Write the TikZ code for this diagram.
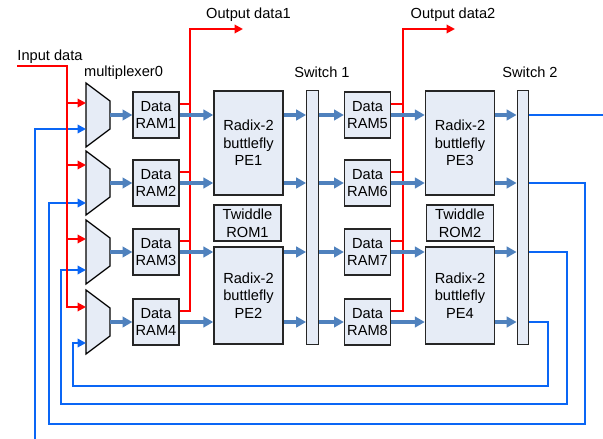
\documentclass[tikz,border=0pt]{standalone}
\usepackage{fontspec}
\setmainfont{Liberation Sans}
\usetikzlibrary{arrows.meta}

\definecolor{busblue}{RGB}{79,129,189}
\definecolor{loopblue}{RGB}{10,102,245}
\definecolor{boxfill}{RGB}{230,236,246}

\tikzset{
  blk/.style={draw=black!85, line width=0.9pt, fill=boxfill, align=center, inner sep=0pt},
  ram/.style={blk, minimum width=1.15cm, minimum height=1.15cm},
  pe/.style={blk, minimum width=1.73cm},
  rom/.style={blk, minimum width=1.68cm, minimum height=0.9cm},
  switchbar/.style={blk, minimum width=0.29cm, minimum height=6.33cm},
  mux/.style={draw=black, line width=0.9pt, fill=boxfill},
  bus/.style={busblue, line width=2.4pt, -{Triangle[length=7pt,width=7.5pt]}},
  din/.style={red, line width=1.4pt},
  fb/.style={loopblue, line width=1.6pt},
  tip/.style={-{Triangle[length=6pt,width=6pt]}}
}

\begin{document}
\begin{tikzpicture}[x=0.025cm, y=-0.025cm, font=\fontsize{10.4}{12.5}\selectfont]
    \useasboundingbox (0,0) rectangle (603,439);

    % rows of the data path
    \foreach \i/\y in {1/115,2/183,3/252,4/322}
        \coordinate (r\i) at (0,\y);

    % multiplexers
    \foreach \i/\y/\a/\b in {1/115/103/129, 2/183/165/203, 3/252/239/270, 4/322/307/343} {
        \draw[mux] (86,\y-32) -- (110,\y-14) -- (110,\y+14) -- (86,\y+32) -- cycle;
        \coordinate (mux\i-a) at (86,\a);
        \coordinate (mux\i-b) at (86,\b);
        \coordinate (mux\i-o) at (110,\y);
    }

    % memories
    \foreach \i/\y in {1/115,2/183,3/252,4/322}
        \node[ram] (ram\i) at (156,\y) {Data\\RAM\i};
    \foreach \i/\y in {5/115,6/183,7/252,8/322}
        \node[ram] (ram\i) at (367.5,\y) {Data\\RAM\i};

    % butterflies and twiddle ROMs
    \node[pe, minimum height=2.6cm] (pe1) at (248.5,143) {Radix-2\\buttlefly\\PE1};
    \node[pe, minimum height=2.425cm] (pe2) at (248.5,295.5) {Radix-2\\buttlefly\\PE2};
    \node[pe, minimum height=2.6cm] (pe3) at (460,143) {Radix-2\\buttlefly\\PE3};
    \node[pe, minimum height=2.425cm] (pe4) at (460,295.5) {Radix-2\\buttlefly\\PE4};
    \node[rom] (rom1) at (247.5,223) {Twiddle\\ROM1};
    \node[rom] (rom2) at (460,223) {Twiddle\\ROM2};

    % switches
    \node[switchbar] (sw1) at (312.5,217.5) {};
    \node[switchbar] (sw2) at (523,217.5) {};

    % labels
    \node (inlbl) at (50,57) {Input data};
    \node (muxlbl) at (123.5,73) {multiplexer0};
    \node (sw1lbl) at (322,72) {Switch 1};
    \node (sw2lbl) at (530,72) {Switch 2};
    \node (out1lbl) at (248.5,15) {Output data1};
    \node (out2lbl) at (453,15) {Output data2};

    % feedback from switch 2
    \coordinate (fbout) at (603,115);
    \coordinate (fbin) at (35,439);
    \draw[fb] (sw2.east |- r1) -- (fbout);
    \draw[fb,tip] (fbin) |- (mux1-b);
    \foreach \i/\x/\y/\l in {2/585/424/49, 3/567/404/61, 4/548/386/73} {
        \coordinate (fb\i) at (\x,\y);
        \coordinate (lp\i) at (\l,\y);
        \draw[fb,tip] (sw2.east |- r\i) -| (fb\i) -- (lp\i) |- (mux\i-b);
    }

    % input data
    \coordinate (in0) at (17,66);
    \coordinate (in1) at (67,66);
    \draw[din,tip] (in0) -- (in1) |- (mux4-a);
    \foreach \i in {1,2,3}
        \draw[din,tip] (mux\i-a -| in1) -- (mux\i-a);

    % output data taps
    \foreach \i in {1,...,8}
        \coordinate (ram\i-t) at ([yshift=8pt]ram\i.east);
    \coordinate (tap1) at (190,29);
    \coordinate (tap2) at (403,29);
    \coordinate (out1) at (243,29);
    \coordinate (out2) at (455,29);
    \draw[din,tip] (ram4-t) -| (tap1) -- (out1);
    \draw[din,tip] (ram8-t) -| (tap2) -- (out2);
    \foreach \i in {1,2,3}
        \draw[din] (ram\i-t) -- (ram\i-t -| tap1);
    \foreach \i in {5,6,7}
        \draw[din] (ram\i-t) -- (ram\i-t -| tap2);

    % data path
    \foreach \i/\p in {1/1,2/1,3/2,4/2} {
        \pgfmathtruncatemacro\m{\i+4}
        \pgfmathtruncatemacro\q{\p+2}
        \draw[bus] (mux\i-o) -- (ram\i.west);
        \draw[bus] (ram\i.east) -- (pe\p.west |- r\i);
        \draw[bus] (pe\p.east |- r\i) -- (sw1.west |- r\i);
        \draw[bus] (sw1.east |- r\i) -- (ram\m.west);
        \draw[bus] (ram\m.east) -- (pe\q.west |- r\i);
        \draw[bus] (pe\q.east |- r\i) -- (sw2.west |- r\i);
    }
\end{tikzpicture}
\end{document}
